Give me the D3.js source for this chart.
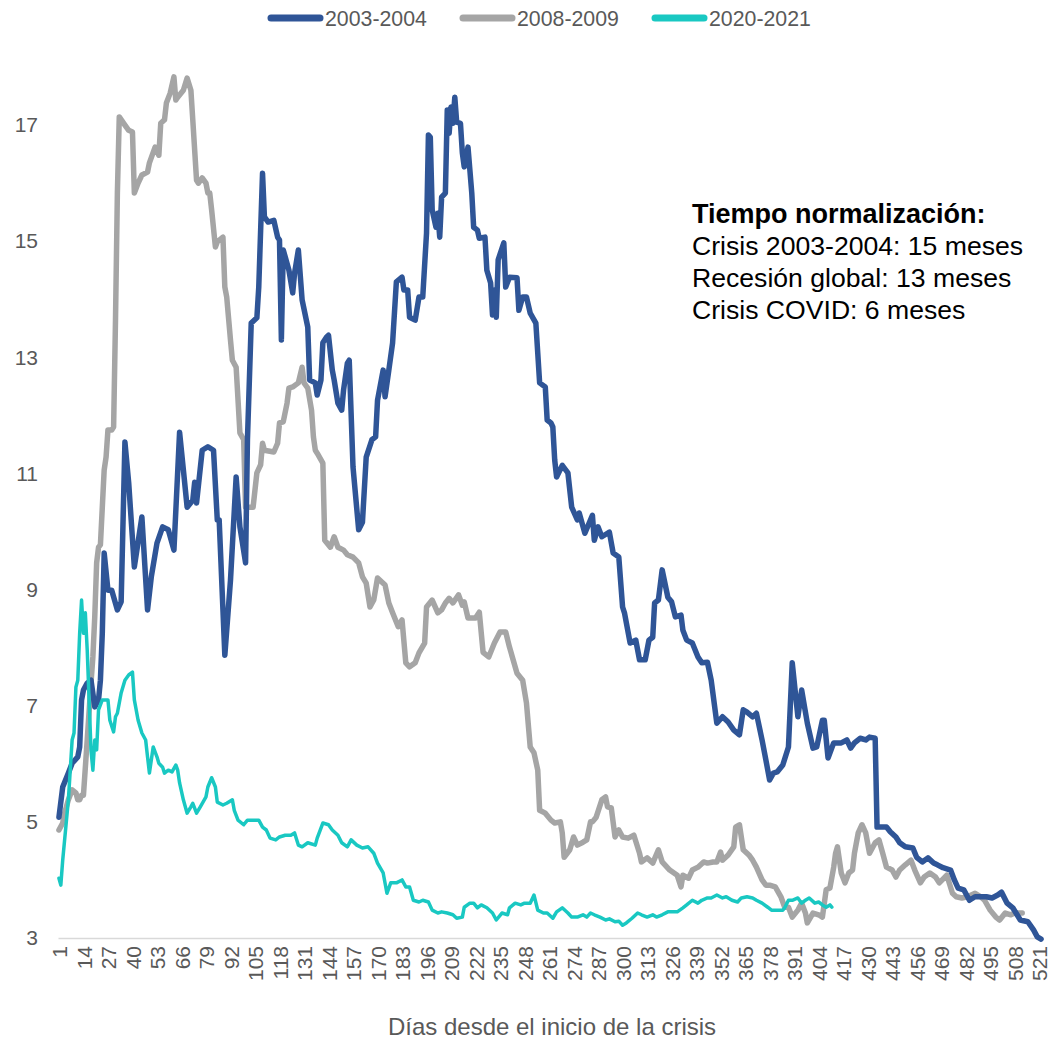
<!DOCTYPE html>
<html><head><meta charset="utf-8">
<script src="https://cdn.jsdelivr.net/npm/d3@7"></script>
<style>body{margin:0;background:#fff;font-family:"Liberation Sans",Arial,sans-serif;}</style>
</head><body><svg id="c" width="1051" height="1039"></svg>
<script>
const seriesNames = ["2003-2004","2008-2009","2020-2021"];
const seriesColors = ["#2F5597","#A5A5A5","#19C8C2"];
const xTickValues = d3.range(1, 522, 13);
const yTickValues = [3,5,7,9,11,13,15,17];
const annotationLines = ["Tiempo normalización:","Crisis 2003-2004: 15 meses","Recesión global: 13 meses","Crisis COVID: 6 meses"];
const xTitle = "Días desde el inicio de la crisis";

const days2003 = [1,3,6,8,11,12,13,14,16,18,20,22,23,24,25,27,29,32,34,36,38,41,45,48,50,53,56,59,62,65,69,72,73,74,77,80,83,85,86,88,89,92,95,97,100,101,103,106,107,109,110,112,115,117,118,119,120,123,125,126,128,130,133,134,137,138,140,141,143,144,146,147,149,151,152,154,155,157,160,162,164,167,169,170,173,174,176,178,180,183,184,186,187,190,192,194,196,197,198,199,201,202,203,204,206,207,208,209,210,211,212,214,215,216,218,220,221,223,224,227,228,230,231,232,233,234,237,238,240,244,245,247,249,251,254,256,259,260,262,263,264,265,268,271,273,276,277,280,284,285,287,289,292,293,295,298,300,301,304,307,309,312,314,316,317,319,321,324,326,328,331,332,334,337,340,342,345,347,350,353,356,359,362,364,366,369,371,374,376,378,380,382,385,388,390,393,395,398,401,403,406,407,409,412,414,416,419,421,423,426,429,431,434,435,438,440,442,445,447,450,454,456,459,462,465,467,470,474,476,478,481,484,487,490,493,496,499,501,504,507,511,515,518,520,522];
const vals2003 = [5.08,5.60,5.84,6.01,6.12,6.29,7.10,7.27,7.39,7.44,6.98,7.10,7.44,8.25,9.63,8.99,8.99,8.65,8.79,11.54,10.84,9.39,10.25,8.65,9.22,9.80,10.08,10.03,9.68,11.71,10.42,10.54,10.85,10.49,11.40,11.46,11.40,10.20,10.20,8.65,7.87,9.16,10.94,10.08,9.46,11.58,13.59,13.68,14.21,16.17,15.42,15.33,15.36,15.07,15.02,13.30,14.85,14.50,14.11,14.45,14.85,13.99,13.52,12.61,12.56,12.35,12.61,13.25,13.35,13.38,12.78,12.61,12.21,12.09,12.44,12.90,12.95,11.11,10.03,10.16,11.28,11.58,11.63,12.26,12.78,12.32,12.78,13.25,14.30,14.38,14.16,14.16,13.69,13.64,14.04,14.04,15.14,16.83,16.79,15.54,15.24,15.48,15.07,15.76,15.83,17.26,16.86,17.31,17.03,17.48,17.05,17.03,16.52,16.28,16.62,15.83,15.24,15.19,15.05,15.07,14.50,14.28,13.73,14.16,13.69,14.68,14.97,14.21,14.38,14.37,13.81,14.04,14.04,13.76,13.59,12.56,12.49,11.92,11.87,11.80,11.23,10.94,11.14,11.01,10.42,10.20,10.32,9.97,10.28,9.85,10.08,9.91,9.97,9.99,9.63,9.56,8.70,8.60,8.08,8.13,7.79,7.79,8.13,8.18,8.77,8.82,9.34,8.87,8.79,8.53,8.56,8.30,8.13,8.08,7.84,7.74,7.75,7.44,6.70,6.81,6.72,6.58,6.50,6.93,6.89,6.81,6.87,6.41,6.07,5.72,5.84,5.86,5.98,6.29,7.74,6.81,7.27,6.70,6.27,6.29,6.75,6.75,6.10,6.36,6.36,6.36,6.41,6.27,6.36,6.44,6.41,6.46,6.44,4.91,4.91,4.91,4.83,4.74,4.64,4.57,4.55,4.39,4.31,4.38,4.29,4.26,4.21,4.17,4.00,3.86,3.83,3.65,3.71,3.71,3.71,3.69,3.74,3.79,3.60,3.52,3.31,3.28,3.14,3.02,2.98];

const days2008 = [1,3,4,6,8,10,11,12,13,14,16,18,19,20,21,22,23,25,26,27,29,30,31,32,33,36,38,40,41,43,45,48,49,52,54,55,57,58,60,62,63,64,67,69,71,72,74,75,77,79,80,81,82,84,85,88,89,90,92,93,95,97,99,100,104,106,108,109,110,115,117,118,120,122,123,125,128,130,131,133,135,136,137,138,141,142,145,147,149,152,154,157,160,162,164,166,168,170,174,176,178,181,183,185,187,190,192,195,196,199,202,204,206,208,210,213,215,216,218,222,224,226,229,232,235,238,240,244,247,249,251,253,255,256,259,262,264,267,268,269,272,274,276,279,281,283,284,286,289,291,292,294,296,298,300,303,306,309,310,313,316,319,321,325,329,331,332,335,337,340,343,345,348,350,352,353,356,359,360,362,364,367,369,371,374,376,378,381,384,386,388,390,393,395,397,398,401,404,406,408,410,412,413,414,416,418,420,422,423,425,427,429,431,434,436,438,440,443,445,447,450,453,455,458,460,463,466,468,472,475,477,480,483,487,490,492,495,498,500,503,506,508,512];
const vals2008 = [4.86,4.98,5.15,5.38,5.55,5.50,5.38,5.38,5.46,5.46,6.41,7.39,7.84,8.53,9.46,9.73,9.77,11.06,11.28,11.75,11.75,11.80,13.64,15.83,17.14,17.00,16.91,16.88,15.83,16.00,16.14,16.19,16.35,16.62,16.48,17.03,17.09,17.38,17.55,17.83,17.43,17.48,17.60,17.81,17.60,17.09,16.05,16.00,16.09,16.00,15.83,15.83,15.54,14.90,14.99,15.07,14.21,14.04,13.30,12.95,12.83,11.70,11.58,10.42,10.42,11.01,11.15,11.52,11.40,11.37,11.52,11.87,11.89,12.21,12.47,12.49,12.56,12.83,12.56,12.47,12.09,11.63,11.40,11.35,11.18,9.85,9.73,9.91,9.73,9.68,9.60,9.56,9.46,9.22,9.11,8.70,8.82,9.20,9.08,8.77,8.60,8.36,8.48,7.74,7.67,7.74,7.91,8.08,8.70,8.82,8.60,8.65,8.77,8.85,8.77,8.91,8.73,8.79,8.51,8.51,8.61,7.92,7.84,8.08,8.27,8.27,8.01,7.56,7.44,7.05,6.29,6.19,5.89,5.20,5.15,5.03,4.98,5.00,4.81,4.39,4.52,4.74,4.60,4.65,4.69,5.00,5.00,5.08,5.38,5.43,5.26,5.24,4.74,4.86,4.74,4.72,4.77,4.46,4.31,4.38,4.29,4.52,4.31,4.17,4.08,3.88,4.08,4.03,4.17,4.22,4.31,4.29,4.31,4.31,4.48,4.34,4.43,4.57,4.91,4.95,4.52,4.43,4.34,4.22,4.00,3.91,3.91,3.88,3.71,3.53,3.53,3.36,3.48,3.60,3.43,3.26,3.43,3.40,3.36,3.83,3.86,4.22,4.46,4.57,4.12,3.95,4.12,4.17,4.46,4.81,4.95,4.81,4.46,4.64,4.69,4.46,4.22,4.17,4.05,4.17,4.26,4.34,4.17,3.95,4.05,4.12,4.05,3.95,4.08,3.77,3.71,3.69,3.71,3.77,3.71,3.65,3.48,3.36,3.31,3.43,3.40,3.43,3.43];

const days2020 = [1,2,3,5,6,8,9,10,11,12,13,14,15,16,17,18,19,20,21,22,24,27,28,30,31,32,34,36,38,40,41,43,45,47,48,49,51,53,54,56,57,59,61,63,64,65,67,69,71,72,74,76,79,80,82,84,85,88,90,93,94,96,99,101,104,107,109,111,113,116,118,121,124,126,128,130,133,137,138,141,144,146,149,151,154,156,159,162,165,168,170,173,175,177,180,183,185,187,189,192,194,197,199,202,204,207,210,212,215,216,219,221,223,225,228,231,233,236,239,240,243,246,248,251,253,255,258,260,263,265,268,271,273,276,279,281,283,285,288,291,293,296,298,300,302,305,308,310,313,316,318,321,324,326,329,332,334,337,340,342,345,347,350,353,355,358,361,363,366,369,371,374,377,379,382,385,386,388,390,393,395,397,399,402,404,406,408,410,411];
const vals2020 = [4.03,3.91,4.34,5.03,5.38,6.41,6.53,7.32,7.44,8.25,8.82,8.25,8.60,7.96,7.10,6.24,5.89,6.41,6.24,6.93,7.10,7.10,6.75,6.55,6.81,6.87,7.22,7.44,7.53,7.58,7.10,6.75,6.53,6.41,6.12,5.84,6.29,6.12,6.01,5.94,5.84,5.89,5.86,5.98,5.89,5.67,5.38,5.15,5.26,5.32,5.15,5.26,5.43,5.60,5.76,5.60,5.34,5.29,5.32,5.38,5.20,5.03,4.95,5.03,5.03,5.03,4.91,4.86,4.72,4.69,4.74,4.77,4.77,4.81,4.60,4.57,4.64,4.60,4.72,4.98,4.95,4.86,4.77,4.64,4.57,4.69,4.60,4.55,4.57,4.46,4.29,4.12,3.77,3.95,3.95,4.00,3.88,3.88,3.65,3.62,3.65,3.62,3.48,3.43,3.45,3.43,3.40,3.34,3.36,3.53,3.60,3.60,3.52,3.57,3.52,3.43,3.31,3.43,3.40,3.52,3.60,3.57,3.60,3.60,3.74,3.48,3.43,3.43,3.34,3.45,3.52,3.43,3.36,3.36,3.40,3.36,3.43,3.40,3.36,3.31,3.33,3.28,3.29,3.22,3.26,3.34,3.43,3.40,3.36,3.40,3.36,3.40,3.45,3.45,3.45,3.52,3.57,3.65,3.60,3.65,3.69,3.69,3.74,3.69,3.71,3.65,3.62,3.69,3.71,3.69,3.65,3.60,3.53,3.48,3.48,3.48,3.52,3.65,3.65,3.69,3.60,3.65,3.69,3.60,3.62,3.57,3.53,3.57,3.53];

const svg = d3.select("#c");
const x = d3.scaleLinear().domain([0.5, 522.5]).range([58, 1042]);
const y = d3.scaleLinear().domain([3, 18]).range([938, 67]);
const txt = "#595959";

// x axis
const xa = svg.append("g").attr("transform","translate(0,938)")
  .call(d3.axisBottom(x).tickValues(xTickValues).tickSize(0).tickFormat(d3.format("d")));
xa.select(".domain").attr("stroke","#D9D9D9").attr("stroke-width",1.5);
xa.selectAll("text").attr("fill",txt).style("font-size","21px").style("font-family","Liberation Sans, Arial, sans-serif")
  .attr("transform","rotate(-90)").attr("text-anchor","end").attr("x",-8).attr("y",0).attr("dy","0.36em");

// y axis
const ya = svg.append("g").attr("transform","translate(40,0)")
  .call(d3.axisLeft(y).tickValues(yTickValues).tickSize(0));
ya.select(".domain").remove();
ya.selectAll("text").attr("fill",txt).style("font-size","21px").style("font-family","Liberation Sans, Arial, sans-serif").attr("x",-2);

const seriesData = [[days2003, vals2003],[days2008, vals2008],[days2020, vals2020]];
const widths = [5.5, 5.5, 3.5];
const line = d3.line().x(d=>x(d[0])).y(d=>y(d[1])).curve(d3.curveLinear);
[1,0,2].forEach(i=>{
  const pts = seriesData[i][0].map((d,j)=>[d, seriesData[i][1][j]]);
  svg.append("path").datum(pts).attr("d",line).attr("fill","none")
    .attr("stroke",seriesColors[i]).attr("stroke-width",widths[i])
    .attr("stroke-linejoin","round").attr("stroke-linecap","round");
});

// legend
const legX = [268, 460, 652];
seriesNames.forEach((n,i)=>{
  const g = svg.append("g");
  g.append("line").attr("x1",legX[i]+3).attr("x2",legX[i]+52).attr("y1",18).attr("y2",18)
    .attr("stroke",seriesColors[i]).attr("stroke-width",7).attr("stroke-linecap","round");
  g.append("text").attr("x",legX[i]+57).attr("y",26).text(n).attr("fill",txt)
    .style("font-size","21.3px");
});

// annotation
annotationLines.forEach((t,i)=>{
  svg.append("text").attr("x",692).attr("y",223+i*32).text(t)
    .attr("fill","#000").style("font-size", i===0?"27px":"26.6px").style("font-weight", i===0?"bold":"normal");
});

// x title
svg.append("text").attr("x",552).attr("y",1035).attr("text-anchor","middle").text(xTitle)
  .attr("fill",txt).style("font-size","24px");
</script></body></html>
